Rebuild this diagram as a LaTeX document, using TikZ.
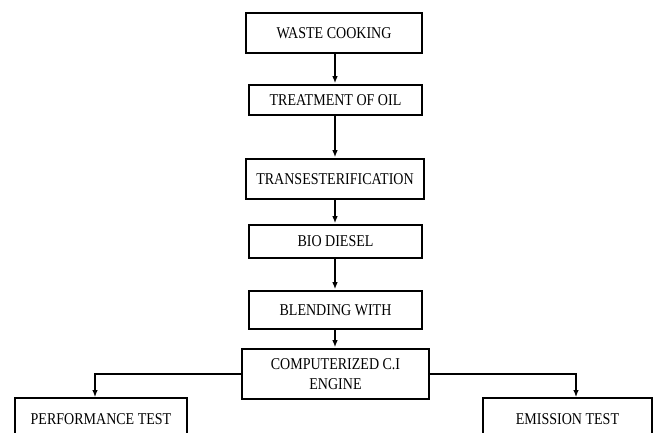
\documentclass[tikz,border=0pt]{standalone}
\usepackage{fontspec}
\setmainfont{Liberation Serif}
\newfontfamily\narrowserif[FakeStretch=0.85]{Liberation Serif}
\usetikzlibrary{arrows.meta}
\begin{document}
\begin{tikzpicture}[x=1pt,y=-1pt,
  box/.style={draw=black, line width=1.8pt, rectangle, inner sep=0pt, align=center,
    font=\narrowserif\fontsize{16.5}{20}\selectfont},
  conn/.style={line width=1.3pt, shorten >=0.9pt, -{Latex[length=7pt,width=5.5pt]}}]
\clip (0,0) rectangle (661,432);
\fill[white] (0,0) rectangle (661,432);
\node[box, minimum width=176pt, minimum height=40pt] (b1) at (334,33) {WASTE COOKING};
\node[box, minimum width=173pt, minimum height=30pt] (b2) at (335.5,100) {TREATMENT OF OIL};
\node[box, minimum width=178pt, minimum height=40pt] (b3) at (335,179) {TRANSESTERIFICATION};
\node[box, minimum width=173pt, minimum height=33pt] (b4) at (335.5,241.5) {BIO DIESEL};
\node[box, minimum width=173pt, minimum height=38pt] (b5) at (335.5,310) {BLENDING WITH};
\node[box, minimum width=187pt, minimum height=50pt] (b6) at (335.5,374) {COMPUTERIZED C.I\\ENGINE};
\node[box, minimum width=172pt, minimum height=42pt] (p) at (101,419) {PERFORMANCE TEST};
\node[box, minimum width=169pt, minimum height=42pt] (e) at (567.5,419) {EMISSION TEST};
\coordinate (ax) at (335,0);
\draw[conn] (b1.south -| ax) -- (b2.north -| ax);
\draw[conn] (b2.south -| ax) -- (b3.north -| ax);
\draw[conn] (b3.south -| ax) -- (b4.north -| ax);
\draw[conn] (b4.south -| ax) -- (b5.north -| ax);
\draw[conn] (b5.south -| ax) -- (b6.north -| ax);
\draw[conn] (b6.west) -- (95,374) -- (95,398);
\draw[conn] (b6.east) -- (576,374) -- (576,398);
\end{tikzpicture}
\end{document}
